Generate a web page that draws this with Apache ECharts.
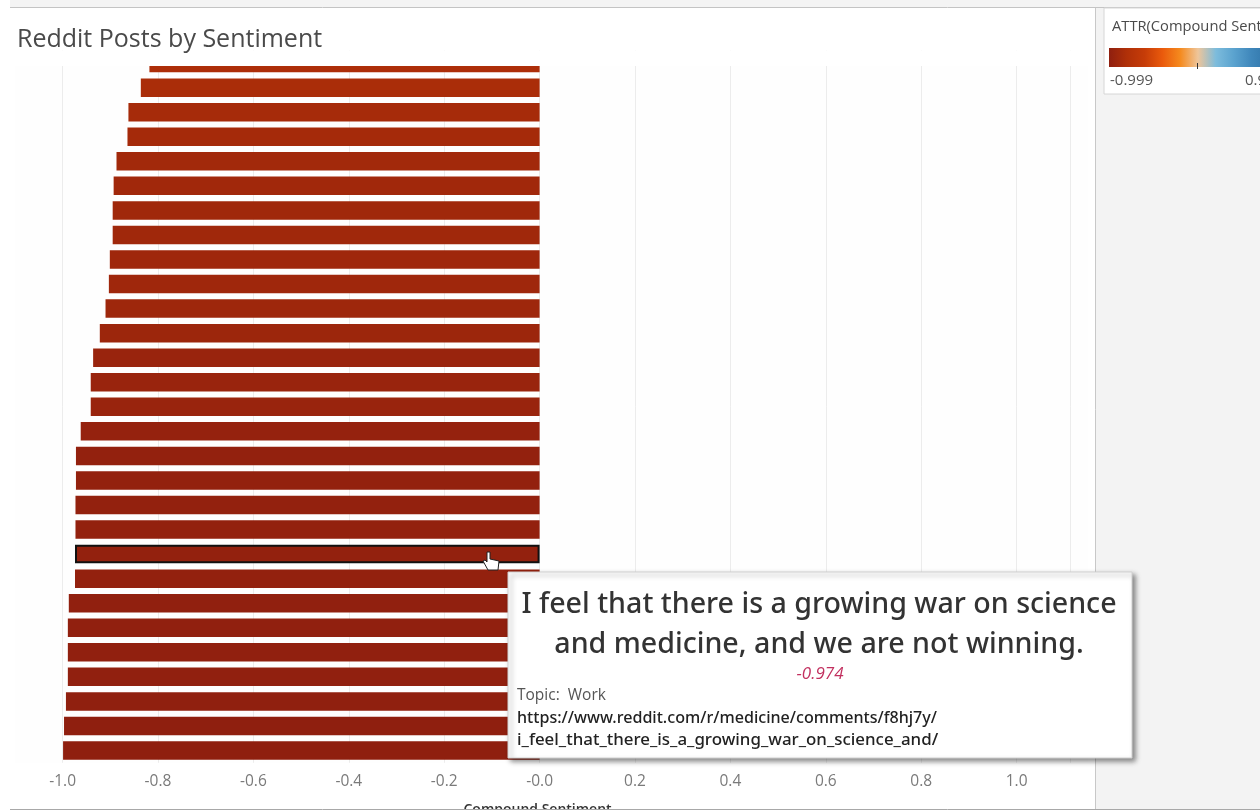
<!DOCTYPE html>
<html><head><meta charset="utf-8">
<style>html,body{margin:0;padding:0;background:#fff;overflow:hidden}#c{width:1260px;height:811px}</style>
<script src="https://cdn.jsdelivr.net/npm/echarts@6/dist/echarts.min.js"></script></head>
<body><div id="c"></div>
<script>
const chartTitle = 'Reddit Posts by Sentiment';
const sentiment = [-0.818,-0.836,-0.862,-0.864,-0.887,-0.893,-0.895,-0.895,-0.901,-0.903,-0.910,-0.922,-0.936,-0.941,-0.941,-0.962,-0.972,-0.972,-0.973,-0.973,-0.974,-0.974,-0.987,-0.989,-0.989,-0.989,-0.993,-0.997,-0.999];
const posts = sentiment.map((_, i) => 'Post ' + (i + 1));
const selectedPost = 20;
const xTicks = [-1,-0.8,-0.6,-0.4,-0.2,0,0.2,0.4,0.6,0.8,1];
const gridLines = [-1,-0.8,-0.6,-0.4,-0.2,0,0.2,0.4,0.6,0.8,1,1.113];
const legendMin = -0.999, legendMax = 0.997;
const ramp = ['#8f1f0f','#b03008','#c63c08','#ea5a0c','#f58a1e','#eec59a','#7dbcdc','#5ba3cf','#3f87bb','#2f74a8','#1f5f95'];
const F = '"Open Sans", sans-serif';
const N = '"Noto Sans", sans-serif';
const tt = (x, y, text, font, fill, align, extra) => ({type:'text', z:50, silent:true, style:Object.assign({x, y, text, font, fill, textAlign:align||'left', textVerticalAlign:'middle'}, extra||{})});
const ch = echarts.init(document.getElementById('c'));
ch.setOption({
  animation:false,
  backgroundColor:'#fff',
  grid:{left:14.9, top:50.8, width:1073.25, height:712, backgroundColor:'#fefefe', show:true, borderWidth:0, outerBoundsMode:'none'},
  xAxis:{type:'value', min:-1.1, max:1.15,
    name:'Compound Sentiment', nameLocation:'middle', nameGap:40, nameMoveOverlap:false,
    nameTextStyle:{fontFamily:F, fontSize:14, fontWeight:600, color:'#333', padding:[0,28,0,0]},
    axisLine:{show:false},
    axisTick:{show:false, customValues:gridLines},
    splitLine:{show:true, customValues:gridLines, lineStyle:{color:'#ececec', width:1}},
    axisLabel:{customValues:xTicks, color:'#7a7a7a', fontFamily:F, fontSize:15.5, margin:11,
      formatter:v => v === 0 ? '-0.0' : v.toFixed(1)}},
  yAxis:{type:'category', inverse:true, data:posts, axisLine:{show:false}, axisTick:{show:false}, axisLabel:{show:false}, splitLine:{show:false}},
  visualMap:{show:false, type:'continuous', min:legendMin, max:legendMax, dimension:0, seriesIndex:0, inRange:{color:ramp}},
  series:[{type:'bar', barWidth:18.5, silent:true,
    data:sentiment.map((v,i)=> i===selectedPost ? {value:v, itemStyle:{borderColor:'#111', borderWidth:2}} : v)}],
  graphic:[
    {type:'rect', z:40, silent:true, shape:{x:0,y:51,width:1095,height:15}, style:{fill:'#fff'}},
    {type:'rect', z:40, silent:true, shape:{x:10,y:0,width:1250,height:7}, style:{fill:'#f4f4f4'}},
    {type:'line', z:41, silent:true, shape:{x1:10,y1:7.5,x2:1260,y2:7.5}, style:{stroke:'#c4c4c4',lineWidth:1}},
    {type:'rect', z:40, silent:true, shape:{x:1095,y:8,width:165,height:803}, style:{fill:'#f3f3f3'}},
    {type:'line', z:41, silent:true, shape:{x1:1095.5,y1:8,x2:1095.5,y2:811}, style:{stroke:'#c8c8c8',lineWidth:1}},
    {type:'rect', z:60, silent:true, shape:{x:0,y:809,width:1260,height:2}, style:{fill:'#fff'}},
    {type:'line', z:61, silent:true, shape:{x1:10,y1:809.5,x2:1260,y2:809.5}, style:{stroke:'#a8a8a8',lineWidth:1}},
    tt(17,40,chartTitle,'400 25px '+F,'#4a4a4a','left',{}),
    {type:'rect', z:42, silent:true, shape:{x:1104,y:8,width:200,height:86}, style:{fill:'#fff',stroke:'#d6d6d6',lineWidth:1}},
    tt(1112,27,'ATTR(Compound Sentiment)','400 14.7px '+F,'#4a4a4a'),
    {type:'rect', z:43, silent:true, shape:{x:1109,y:48,width:178,height:19},
      style:{fill:new echarts.graphic.LinearGradient(0,0,1,0,ramp.map((c,i)=>({offset:i/(ramp.length-1),color:c})))}},
    {type:'line', z:44, silent:true, shape:{x1:1197.5,y1:63,x2:1197.5,y2:69}, style:{stroke:'#333',lineWidth:1}},
    tt(1110,81,legendMin.toFixed(3),'400 15px '+F,'#555'),
    tt(1245,81,legendMax.toFixed(3),'400 15px '+F,'#555'),
    {type:'rect', z:45, silent:true, shape:{x:508,y:572,width:624,height:186},
      style:{fill:'#fff',stroke:'#d0d0d0',lineWidth:1,shadowBlur:5,shadowOffsetX:3,shadowOffsetY:3,shadowColor:'rgba(0,0,0,0.45)'}},
    tt(819,605,'I feel that there is a growing war on science','500 28.6px '+N,'#333','center'),
    tt(819,645,'and medicine, and we are not winning.','500 28.6px '+N,'#333','center'),
    tt(820,674,'-0.974','italic 400 17px '+F,'#c2305f','center'),
    tt(517,696,'Topic:  Work','400 15.5px '+F,'#555'),
    tt(517,718,'https://www.reddit.com/r/medicine/comments/f8hj7y/','500 16.1px '+N,'#222'),
    tt(517,740,'i_feel_that_there_is_a_growing_war_on_science_and/','500 16.9px '+N,'#222'),
    {type:'polygon', z:46, silent:true, shape:{points:[[487,552],[487,562],[485,560],[483,561],[488,570],[498,570],[499,561],[490,559],[490,552]]},
      style:{fill:'#fff',stroke:'#222',lineWidth:1}}
  ]
});
</script></body></html>
